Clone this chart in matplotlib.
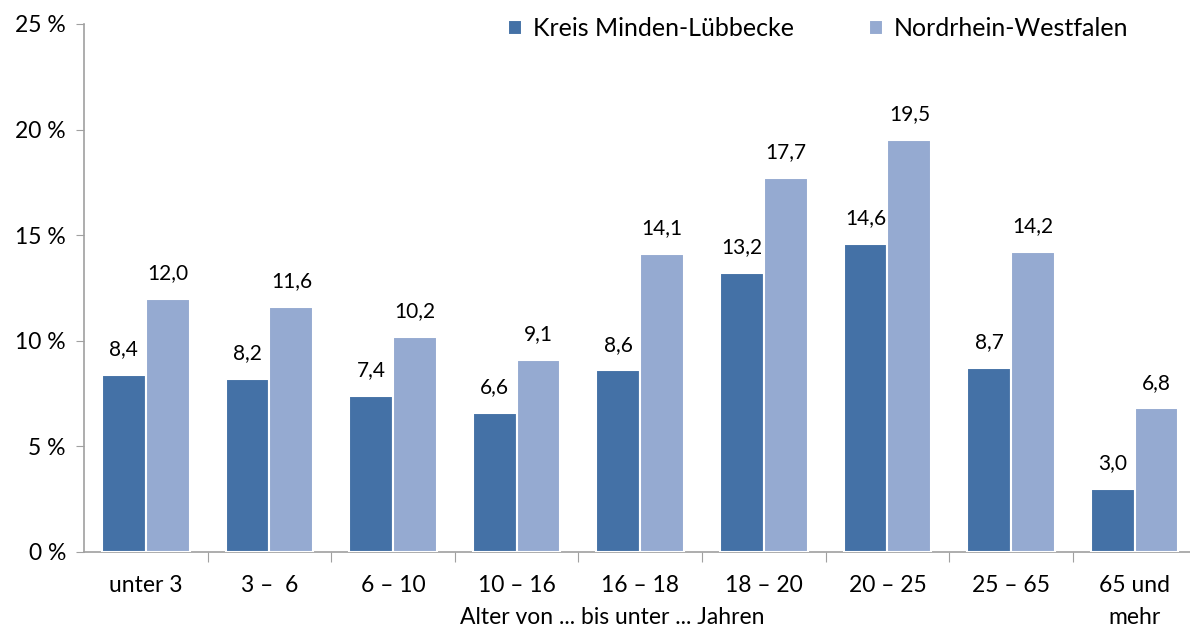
import matplotlib
matplotlib.use("Agg")
import matplotlib.pyplot as plt
from matplotlib.transforms import offset_copy
import numpy as np

categories = ["unter 3", "3 –  6", "6 – 10", "10 – 16", "16 – 18", "18 – 20", "20 – 25", "25 – 65", "65 und\nmehr"]
kreis = [8.4, 8.2, 7.4, 6.6, 8.6, 13.2, 14.6, 8.7, 3.0]
nrw = [12.0, 11.6, 10.2, 9.1, 14.1, 17.7, 19.5, 14.2, 6.8]
series_names = ["Kreis Minden-Lübbecke", "Nordrhein-Westfalen"]
yticks = [0, 5, 10, 15, 20, 25]
xlabel = "Alter von ... bis unter ... Jahren"

plt.rcParams['font.family'] = ['Lato', 'DejaVu Sans']
dark = "#4471A6"
light = "#95AAD1"
axis_col = "#A0A0A0"

fig = plt.figure(figsize=(11.9, 6.28), dpi=100)
W, H = 1190, 628
left, right, top, bottom = 84, 1190, 24, 552
ax = fig.add_axes([left / W, 1 - bottom / H, (right - left) / W, (bottom - top) / H])

x = np.arange(len(categories))
bw = 0.355
b1 = ax.bar(x - bw / 2, kreis, bw, color=dark, edgecolor="white", linewidth=1.5, label=series_names[0], zorder=3)
b2 = ax.bar(x + bw / 2, nrw, bw, color=light, edgecolor="white", linewidth=1.5, label=series_names[1], zorder=3)

for bars, vals in ((b1, kreis), (b2, nrw)):
    for r, v in zip(bars, vals):
        ax.annotate(f"{v:.1f}".replace(".", ","), (r.get_x() + r.get_width() / 2, v),
                    xytext=(0, 18.5), textcoords="offset points", ha="center", va="center",
                    fontsize=15, color="black")

xmax = -0.5 + (right - left) / 123.6
ax.set_xlim(-0.5, xmax)
ax.set_ylim(0, 25)
ax.set_yticks(yticks)
ax.set_yticklabels([f"{t} %" for t in yticks], fontsize=16.5)
ax.tick_params(axis="y", direction="out", length=6, color=axis_col, pad=7)

ax.set_xticks(np.arange(len(categories) - 1) + 0.5)
ax.set_xticklabels([])
ax.tick_params(axis="x", direction="out", length=7, color=axis_col)

trans = ax.get_xaxis_transform()
for i, c in enumerate(categories):
    for j, part in enumerate(c.split("\n")):
        tr = offset_copy(trans, fig=fig, x=0, y=-(585 + 33 * j - bottom) * 72 / 100, units="points")
        ax.text(i, 0, part, transform=tr, ha="center", va="center", fontsize=16.5)

xt = (612 - left) / 123.6 - 0.5
line2 = offset_copy(trans, fig=fig, x=0, y=-(618 - bottom) * 72 / 100, units="points")
ax.text(xt, 0, xlabel, transform=line2, ha="center", va="center", fontsize=16.5)

for s in ["top", "right"]:
    ax.spines[s].set_visible(False)
for s in ["left", "bottom"]:
    ax.spines[s].set_color(axis_col)
    ax.spines[s].set_linewidth(1.2)

leg = fig.legend(handles=[b1, b2], labels=series_names, loc="center", bbox_to_anchor=(818 / W, 1 - 29 / H),
                 ncol=2, frameon=False, fontsize=18, handlelength=0.55, handleheight=0.55,
                 handletextpad=0.45, columnspacing=3.0)

fig.savefig("out.png", dpi=100)
